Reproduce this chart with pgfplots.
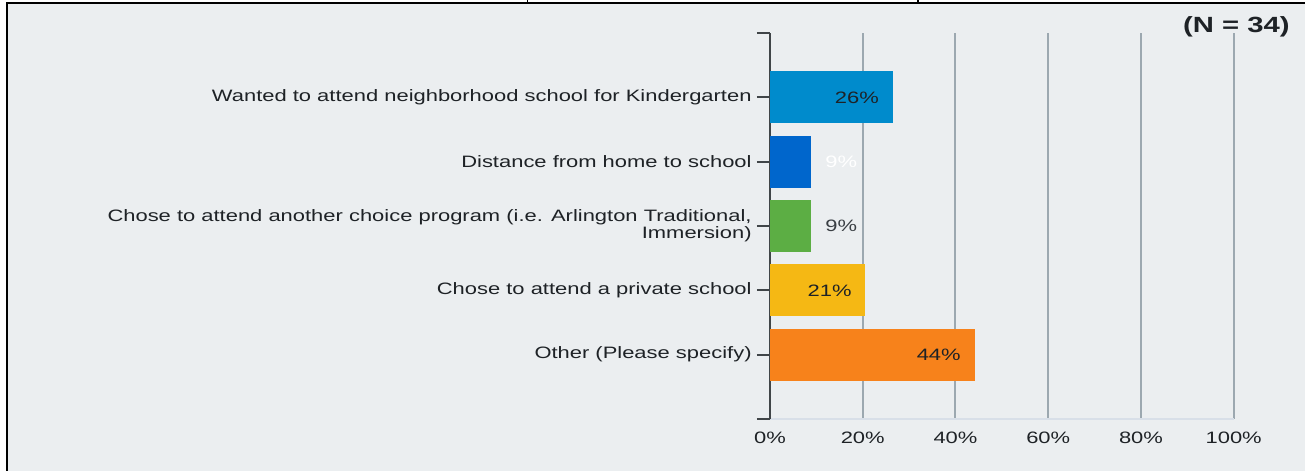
\documentclass[border=0pt]{standalone}
\usepackage{pgfplots}
\pgfplotsset{compat=1.18}
\usepackage{fontspec}
\setmainfont{Liberation Sans}[FakeStretch=1.33]
\setsansfont{Liberation Sans}[FakeStretch=1.33]
\definecolor{bg}{HTML}{EBEEF0}
\definecolor{cA}{RGB}{0,139,204}
\definecolor{cB}{RGB}{0,102,204}
\definecolor{cC}{RGB}{92,174,68}
\definecolor{cD}{RGB}{245,184,20}
\definecolor{cE}{RGB}{247,130,27}
\definecolor{gridc}{HTML}{9CA8B0}
\definecolor{yaxc}{HTML}{404548}
\definecolor{xaxc}{HTML}{D8DFE8}
\definecolor{txt}{HTML}{1E2226}
\definecolor{labgray}{HTML}{3A3F44}
\begin{document}
\begin{tikzpicture}
\useasboundingbox (0bp,0bp) rectangle (652.5bp,-235.5bp);
\fill[white] (0bp,0bp) rectangle (652.5bp,-235.5bp);
\fill[bg] (3.5bp,-1.5bp) rectangle (652.5bp,-235.5bp);
\draw[black,line width=1.1bp] (3bp,-1.5bp) -- (652.5bp,-1.5bp);
\draw[black,line width=1.1bp] (3.5bp,-1bp) -- (3.5bp,-235.5bp);
\draw[black,line width=0.6bp] (263.75bp,0bp) -- (263.75bp,-1.5bp);
\draw[black,line width=0.6bp] (459bp,0bp) -- (459bp,-1.5bp);
\node[anchor=base east,inner sep=0pt,text=txt,font=\fontsize{11bp}{11bp}\selectfont\bfseries] at (645bp,-16.3bp) {(N = 34)};
\begin{axis}[
  at={(385bp,-209.5bp)}, anchor=south west,
  width=231.85bp, height=193bp, scale only axis,
  xmin=0, xmax=100, ymin=0, ymax=6,
  xbar, bar width=26bp, bar shift=0pt,
  axis x line*=bottom, axis y line*=left,
  x axis line style={color=xaxc, line width=0.6bp, -},
  y axis line style={color=yaxc, line width=1bp, -},
  xtick={0,20,40,60,80,100},
  xticklabels={0\%,20\%,40\%,60\%,80\%,100\%},
  xmajorgrids,
  major x grid style={color=gridc, line width=1bp},
  x tick style={draw=none},
  ytick={0,1,2,3,4,5,6},
  yticklabels={,Other (Please specify),Chose to attend a private school,{Chose to attend another choice program (i.e. Arlington Traditional,\\Immersion)},Distance from home to school,Wanted to attend neighborhood school for Kindergarten,},
  ytick align=outside,
  major tick length=6.5bp,
  y tick style={color=yaxc, line width=1bp},
  tick label style={font=\fontsize{8.25bp}{8.3bp}\selectfont, text=txt},
  xticklabel style={anchor=base, inner sep=0pt, yshift=-12bp},
  yticklabel style={align=right, anchor=east, inner sep=0pt, xshift=-2.5bp},
  point meta=explicit symbolic,
  nodes near coords,
  every node near coord/.append style={font=\fontsize{8.25bp}{8.3bp}\selectfont, inner sep=0pt},
  clip=false,
]
\addplot[fill=cA, draw=none, every node near coord/.append style={anchor=east, xshift=-6.75bp, text=txt}] coordinates {(26.47,5) [26\%]};
\addplot[fill=cB, draw=none, every node near coord/.append style={anchor=west, xshift=7bp, text=white}] coordinates {(8.82,4) [9\%]};
\addplot[fill=cC, draw=none, every node near coord/.append style={anchor=west, xshift=7bp, text=labgray}] coordinates {(8.82,3) [9\%]};
\addplot[fill=cD, draw=none, every node near coord/.append style={anchor=east, xshift=-6.75bp, text=txt}] coordinates {(20.59,2) [21\%]};
\addplot[fill=cE, draw=none, every node near coord/.append style={anchor=east, xshift=-6.75bp, text=txt}] coordinates {(44.12,1) [44\%]};
\end{axis}
\end{tikzpicture}
\end{document}
